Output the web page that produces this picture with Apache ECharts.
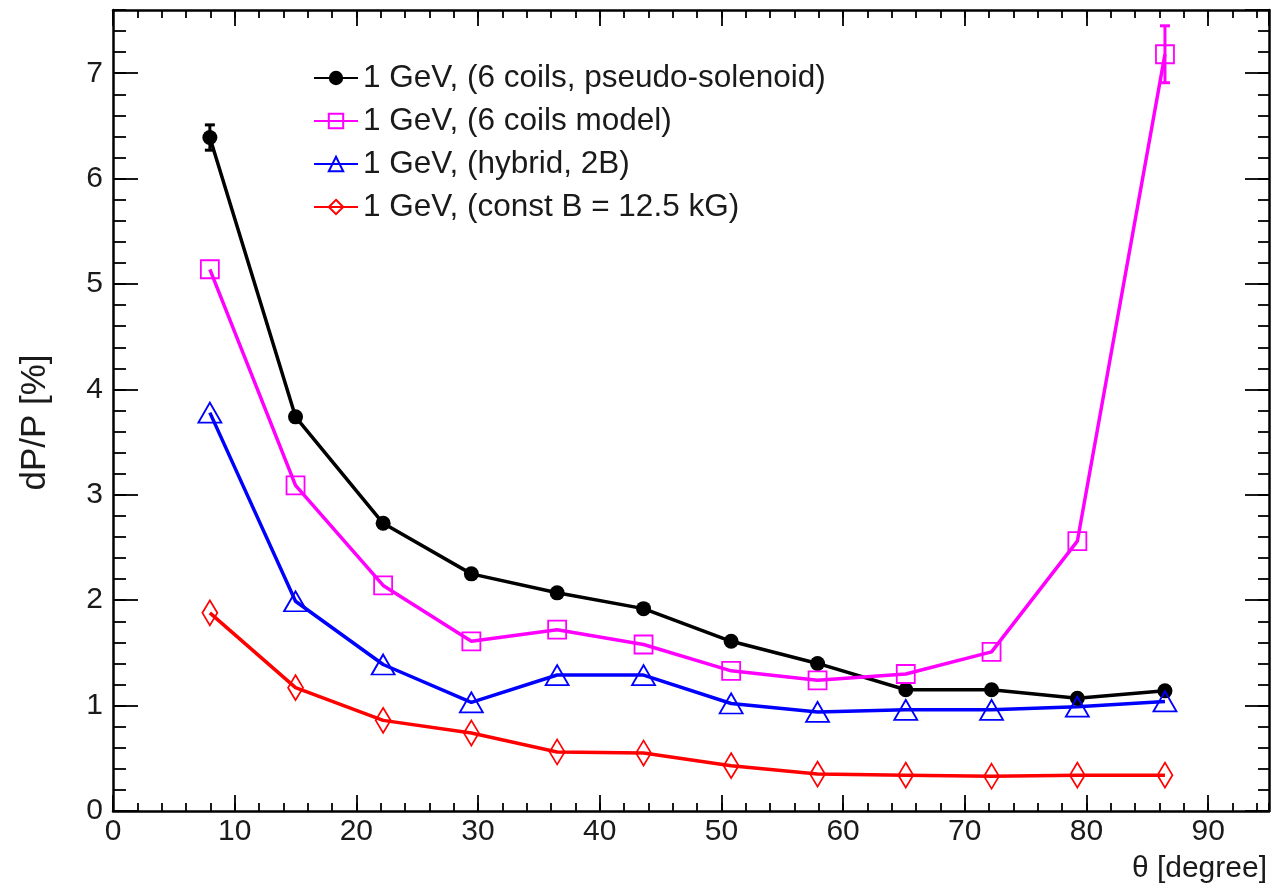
<!DOCTYPE html>
<html>
<head>
<meta charset="utf-8">
<script src="https://cdn.jsdelivr.net/npm/echarts@6/dist/echarts.min.js"></script>
<style>
html,body{margin:0;padding:0;background:#fff;}
#chart{width:1273px;height:888px;}
</style>
</head>
<body>
<div id="chart"></div>
<script>
// ---- data ----
const thetaDeg = [7.96, 15.0, 22.2, 29.45, 36.5, 43.6, 50.8, 57.9, 65.15, 72.2, 79.25, 86.45];
const seriesNames = [
  '1 GeV, (6 coils, pseudo-solenoid)',
  '1 GeV, (6 coils model)',
  '1 GeV, (hybrid, 2B)',
  '1 GeV, (const B = 12.5 kG)'
];
const pseudoSolenoid = [6.39, 3.74, 2.73, 2.25, 2.07, 1.92, 1.61, 1.40, 1.15, 1.15, 1.07, 1.14];
const coilsModel     = [5.14, 3.09, 2.14, 1.61, 1.72, 1.58, 1.33, 1.24, 1.30, 1.51, 2.56, 7.18];
const hybrid2B       = [3.78, 1.99, 1.39, 1.03, 1.29, 1.29, 1.02, 0.94, 0.96, 0.96, 0.99, 1.04];
const constB         = [1.88, 1.17, 0.86, 0.74, 0.56, 0.55, 0.43, 0.35, 0.34, 0.33, 0.34, 0.34];
const pseudoSolenoidErr = [0.12, 0, 0, 0, 0, 0, 0, 0, 0, 0, 0, 0];
const coilsModelErr     = [0, 0, 0, 0, 0, 0, 0, 0, 0, 0, 0, 0.27];
const xRange = [0, 95];
const yRange = [0, 7.6];
const xMajor = 10, xMinor = 2;
const yMajor = 1, yMinor = 0.2;
const xTitle = 'θ [degree]';
const yTitle = 'dP/P [%]';

// ---- chart ----
const FONT = 'Liberation Sans, Arial, Helvetica, sans-serif';
const chart = echarts.init(document.getElementById('chart'));

function pairs(vals) { return thetaDeg.map((x, i) => [x, vals[i]]); }
function errTriples(vals, errs) {
  const out = [];
  thetaDeg.forEach((x, i) => { if (errs[i] > 0) out.push([x, vals[i] - errs[i], vals[i] + errs[i]]); });
  return out;
}

function xAx(pos, interval, len, withLabel, withLine) {
  return {
    type: 'value', position: pos, min: xRange[0], max: xRange[1], interval: interval,
    axisLine: { show: withLine, onZero: false, lineStyle: { color: '#000', width: 2.5 } },
    axisTick: { show: true, inside: true, length: len, lineStyle: { color: '#000', width: 1.8 } },
    axisLabel: { show: withLabel, showMaxLabel: false, margin: 6, color: '#1a1a1a', fontSize: 30, fontFamily: FONT },
    splitLine: { show: false },
    name: (withLabel ? xTitle : ''), nameLocation: 'end', nameGap: -2,
    nameTextStyle: { fontSize: 30, fontFamily: FONT, color: '#1a1a1a', align: 'right', verticalAlign: 'top', padding: [43, 0, 0, 0] }
  };
}
function yAx(pos, interval, len, withLabel, withLine) {
  return {
    type: 'value', position: pos, min: yRange[0], max: yRange[1], interval: interval,
    axisLine: { show: withLine, onZero: false, lineStyle: { color: '#000', width: 2.5 } },
    axisTick: { show: true, inside: true, length: len, lineStyle: { color: '#000', width: 1.8 } },
    axisLabel: { show: withLabel, showMaxLabel: false, margin: 10, color: '#1a1a1a', fontSize: 30, fontFamily: FONT },
    splitLine: { show: false },
    name: (withLabel ? yTitle : ''), nameLocation: 'middle', nameGap: 60, nameRotate: 90,
    nameTextStyle: { fontSize: 35, fontFamily: FONT, color: '#1a1a1a', padding: [0, 24, 0, 0] }
  };
}

function lineSeries(name, vals, color, symbol, size, filled) {
  return {
    name: name, type: 'line', xAxisIndex: 0, yAxisIndex: 0,
    data: pairs(vals), symbol: symbol, symbolSize: size, showAllSymbol: true,
    lineStyle: { color: color, width: 3.5 },
    itemStyle: { color: filled ? color : 'rgba(255,255,255,0)', borderColor: color, borderWidth: filled ? 0 : 1.8 },
    emphasis: { disabled: true }, z: 3
  };
}

function errSeries(triples, color) {
  return {
    type: 'custom', xAxisIndex: 0, yAxisIndex: 0, data: triples, z: 4,
    renderItem: function (params, api) {
      const x = api.value(0), lo = api.value(1), hi = api.value(2);
      const a = api.coord([x, lo]), b = api.coord([x, hi]);
      const st = { stroke: color, lineWidth: 3 };
      return { type: 'group', children: [
        { type: 'line', shape: { x1: a[0], y1: a[1], x2: b[0], y2: b[1] }, style: st },
        { type: 'line', shape: { x1: b[0] - 5, y1: b[1], x2: b[0] + 5, y2: b[1] }, style: st },
        { type: 'line', shape: { x1: a[0] - 5, y1: a[1], x2: a[0] + 5, y2: a[1] }, style: st }
      ] };
    }
  };
}

chart.setOption({
  animation: false,
  backgroundColor: '#fff',
  grid: { left: 113, right: 4, top: 10, bottom: 77, containLabel: false },
  xAxis: [
    xAx('bottom', xMajor, 16, true, true),
    xAx('bottom', xMinor, 8, false, false),
    xAx('top', xMajor, 16, false, true),
    xAx('top', xMinor, 8, false, false)
  ],
  yAxis: [
    yAx('left', yMajor, 25, true, true),
    yAx('left', yMinor, 13, false, false),
    yAx('right', yMajor, 24, false, true),
    yAx('right', yMinor, 11, false, false)
  ],
  legend: {
    data: seriesNames, orient: 'vertical', left: 308, top: 57,
    itemWidth: 44, itemHeight: 18, itemGap: 11,
    textStyle: { fontSize: 31.5, fontFamily: FONT, color: '#1a1a1a' },
    selectedMode: false
  },
  series: [
    lineSeries(seriesNames[0], pseudoSolenoid, '#000000', 'circle', 15, true),
    lineSeries(seriesNames[1], coilsModel, '#ff00ff', 'rect', 18, false),
    lineSeries(seriesNames[2], hybrid2B, '#0000ff', 'triangle', [23, 20], false),
    lineSeries(seriesNames[3], constB, '#ff0000', 'diamond', [15, 25], false),
    errSeries(errTriples(pseudoSolenoid, pseudoSolenoidErr), '#000000'),
    errSeries(errTriples(coilsModel, coilsModelErr), '#ff00ff')
  ]
});
</script>
</body>
</html>
